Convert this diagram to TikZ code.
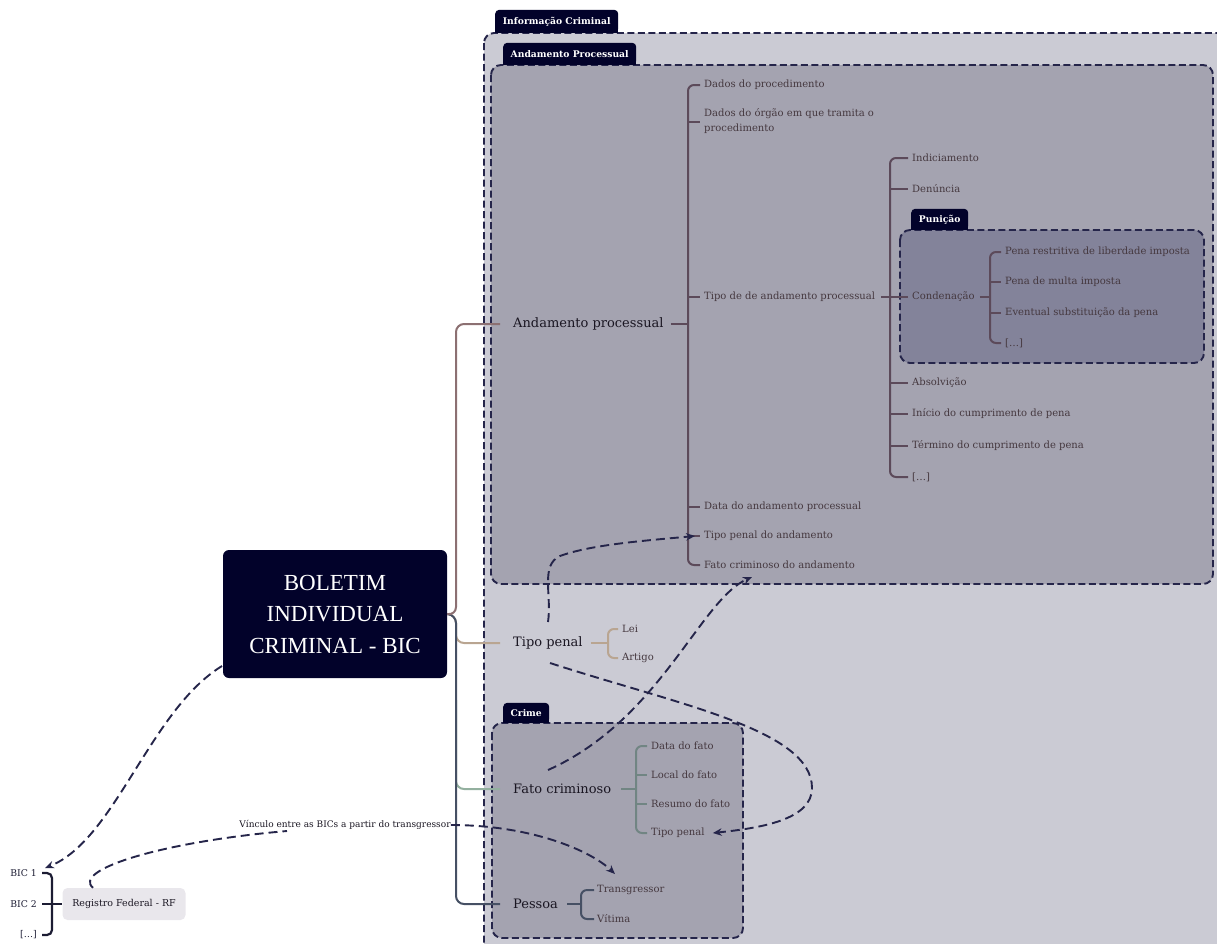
\documentclass[tikz,border=0pt]{standalone}
\usepackage{fontspec}
\setmainfont{DejaVu Serif}
\newfontfamily\titlefont{Liberation Serif}
\usetikzlibrary{arrows.meta}

\definecolor{navy}{HTML}{02022A}
\definecolor{dashc}{HTML}{25254A}
\definecolor{outerc}{HTML}{CBCBD4}
\definecolor{innerc}{HTML}{A4A3B0}
\definecolor{punc}{HTML}{83839A}
\definecolor{rfc}{HTML}{E9E7EC}
\definecolor{apbr}{HTML}{8C7072}
\definecolor{aplc}{HTML}{5C4A5A}
\definecolor{tplc}{HTML}{B9A591}
\definecolor{fcbr}{HTML}{93B09F}
\definecolor{fclc}{HTML}{718583}
\definecolor{pelc}{HTML}{465064}
\definecolor{maintext}{HTML}{1A1622}
\definecolor{itemtext}{HTML}{45383F}
\definecolor{bicc}{HTML}{1C1C33}

\tikzset{
  group/.style={draw=dashc, line width=1.9pt, dash pattern=on 7pt off 3.5pt, rounded corners=10pt},
  tab/.style={fill=navy, text=white, font=\bfseries\fontsize{9.2}{10}\selectfont,
    rounded corners=4pt, inner sep=0pt, anchor=south west},
  mainlbl/.style={anchor=west, inner sep=0pt, font=\fontsize{13}{15}\selectfont, text=maintext},
  item/.style={anchor=west, inner sep=0pt, font=\fontsize{10}{15}\selectfont, text=itemtext, align=left},
  trunk/.style={line width=2pt, rounded corners=8pt},
  brk/.style={line width=2pt, rounded corners=6pt},
  reldash/.style={draw=dashc, line width=1.9pt, dash pattern=on 9pt off 5pt},
  rel/.style={reldash, -{Stealth[length=9pt,width=7.5pt]}},
}

\begin{document}
\begin{tikzpicture}[x=1pt,y=-1pt]
\useasboundingbox (0,0) rectangle (1217,943);
\clip (0,0) rectangle (1217,943);

% ---------- group frames ----------
\draw[group, fill=outerc] (484,33) rectangle (1240,965);
\draw[group, fill=innerc] (491,65) rectangle (1213,584);
\draw[group, fill=punc] (900,230) rectangle (1204,363);
\draw[group, fill=innerc] (492,723) rectangle (743,938);

% ---------- group tabs ----------
\fill[navy] (495,33) rectangle ++(123,-10);
\node[tab, minimum width=123pt, minimum height=23pt] (tInfo) at (495,33) {Informação Criminal};
\fill[navy] (503,65) rectangle ++(133,-10);
\node[tab, minimum width=133pt, minimum height=22pt] (tAnd) at (503,65) {Andamento Processual};
\fill[navy] (911,230) rectangle ++(57,-10);
\node[tab, minimum width=57pt, minimum height=21pt] (tPun) at (911,230) {Punição};
\fill[navy] (503,723) rectangle ++(46,-10);
\node[tab, minimum width=46pt, minimum height=20pt] (tCri) at (503,723) {Crime};

% ---------- root ----------
\node[fill=navy, text=white, rounded corners=6pt, minimum width=224pt, minimum height=128pt,
  align=center, inner sep=0pt, font=\titlefont\fontsize{23}{31.5}\selectfont] (bic) at (335,614)
  {BOLETIM\\INDIVIDUAL\\CRIMINAL - BIC};

% ---------- main branches ----------
\node[mainlbl] (ap) at (513,324) {Andamento processual};
\node[mainlbl] (tp) at (513,643) {Tipo penal};
\node[mainlbl] (fc) at (513,789) {Fato criminoso};
\node[mainlbl] (pe) at (513,904) {Pessoa};

\draw[trunk, draw=tplc] (bic.east) -- (456,615) -- (456,643) -- ([xshift=-13pt]tp.west);
\draw[trunk, draw=fcbr] (456,700) -- (456,789) -- ([xshift=-13pt]fc.west);
\draw[trunk, draw=pelc] (bic.east) -- (456,615) -- (456,904) -- ([xshift=-13pt]pe.west);
\draw[trunk, draw=apbr] (bic.east) -- (456,615) -- (456,324) -- ([xshift=-13pt]ap.west);

% ---------- Andamento processual ----------
\node[item] (d1) at (704,85) {Dados do procedimento};
\node[item] (d2) at (704,121.5) {Dados do órgão em que tramita o\\procedimento};
\node[item] (d3) at (704,297) {Tipo de de andamento processual};
\node[item] (d4) at (704,507) {Data do andamento processual};
\node[item] (d5) at (704,536) {Tipo penal do andamento};
\node[item] (d6) at (704,565) {Fato criminoso do andamento};

\coordinate (apB) at (688,324);
\draw[brk, draw=aplc] ([xshift=7pt]ap.east) -- (apB);
\draw[brk, draw=aplc] ([xshift=-4pt]d1.west) -- (apB |- d1.west) -- (apB |- d6.west) -- ([xshift=-4pt]d6.west);
\foreach \n in {d2,d3,d4,d5}
  \draw[brk, draw=aplc] (apB |- \n.west) -- ([xshift=-4pt]\n.west);

% tipo de andamento
\node[item] (t1) at (912,158) {Indiciamento};
\node[item] (t2) at (912,189) {Denúncia};
\node[item] (t3) at (912,297) {Condenação};
\node[item] (t4) at (912,383) {Absolvição};
\node[item] (t5) at (912,414) {Início do cumprimento de pena};
\node[item] (t6) at (912,446) {Término do cumprimento de pena};
\node[item] (t7) at (912,477) {[…]};

\coordinate (tB) at (890,297);
\draw[brk, draw=aplc] ([xshift=6pt]d3.east) -- ([xshift=-4pt]t3.west);
\draw[brk, draw=aplc] ([xshift=-4pt]t1.west) -- (tB |- t1.west) -- (tB |- t7.west) -- ([xshift=-4pt]t7.west);
\foreach \n in {t2,t4,t5,t6}
  \draw[brk, draw=aplc] (tB |- \n.west) -- ([xshift=-4pt]\n.west);

% condenacao
\node[item] (p1) at (1005,252) {Pena restritiva de liberdade imposta};
\node[item] (p2) at (1005,282) {Pena de multa imposta};
\node[item] (p3) at (1005,313) {Eventual substituição da pena};
\node[item] (p4) at (1005,343) {[…]};

\coordinate (cB) at (990,297);
\draw[brk, draw=aplc] ([xshift=5pt]t3.east) -- (cB);
\draw[brk, draw=aplc] ([xshift=-4pt]p1.west) -- (cB |- p1.west) -- (cB |- p4.west) -- ([xshift=-4pt]p4.west);
\foreach \n in {p2,p3}
  \draw[brk, draw=aplc] (cB |- \n.west) -- ([xshift=-4pt]\n.west);

% ---------- Tipo penal ----------
\node[item] (lei) at (622,629) {Lei};
\node[item] (art) at (622,658) {Artigo};
\coordinate (tpB) at (608,643);
\draw[brk, draw=tplc] ([xshift=8pt]tp.east) -- (tpB);
\draw[brk, draw=tplc] ([xshift=-4pt]lei.west) -- (tpB |- lei.west) -- (tpB |- art.west) -- ([xshift=-4pt]art.west);

% ---------- Fato criminoso ----------
\node[item] (f1) at (651,746) {Data do fato};
\node[item] (f2) at (651,775) {Local do fato};
\node[item] (f3) at (651,804) {Resumo do fato};
\node[item] (f4) at (651,833) {Tipo penal};
\coordinate (fcB) at (636,789);
\draw[brk, draw=fclc] ([xshift=10pt]fc.east) -- (fcB);
\draw[brk, draw=fclc] ([xshift=-4pt]f1.west) -- (fcB |- f1.west) -- (fcB |- f4.west) -- ([xshift=-4pt]f4.west);
\foreach \n in {f2,f3}
  \draw[brk, draw=fclc] (fcB |- \n.west) -- ([xshift=-4pt]\n.west);

% ---------- Pessoa ----------
\node[item] (tr) at (597,890) {Transgressor};
\node[item] (vi) at (597,919) {Vítima};
\coordinate (peB) at (581,904);
\draw[brk, draw=pelc] ([xshift=9pt]pe.east) -- (peB);
\draw[brk, draw=pelc] ([xshift=-3pt]tr.west) -- (peB |- tr.west) -- (peB |- vi.west) -- ([xshift=-3pt]vi.west);

% ---------- BIC list and Registro Federal ----------
\node[anchor=east, inner sep=0pt, font=\fontsize{9.3}{11}\selectfont, text=bicc] (b1) at (37,873) {BIC 1};
\node[anchor=east, inner sep=0pt, font=\fontsize{9.3}{11}\selectfont, text=bicc] (b2) at (37,904) {BIC 2};
\node[anchor=east, inner sep=0pt, font=\fontsize{9.3}{11}\selectfont, text=bicc] (b3) at (37,935) {[…]};
\node[fill=rfc, rounded corners=5pt, minimum width=123pt, minimum height=32pt, inner sep=0pt,
  font=\fontsize{9.5}{11}\selectfont, text=maintext] (rf) at (124,904) {Registro Federal - RF};
\coordinate (bB) at (52,904);
\draw[line width=2.2pt, draw=bicc, rounded corners=5pt] ([xshift=5pt]b1.east) -- (bB |- b1.east) -- (bB |- b3.east) -- ([xshift=5pt]b3.east);
\draw[line width=2.2pt, draw=bicc] ([xshift=5pt]b2.east) -- (rf.west);

% ---------- relations ----------
\node[inner sep=0pt, font=\fontsize{9}{10}\selectfont, text=maintext] (lk) at (345,825)
  {Vínculo entre as BICs a partir do transgressor};
\coordinate (lkin) at (287,831);
\coordinate (trin) at (615,874);
\coordinate (bicout) at (222,666);
\coordinate (bicin) at (45,868);

\draw[rel] (bicout) .. controls (150,710) and (115,840) .. (bicin);
\draw[reldash] ([xshift=-31pt]rf.north) .. controls (72,870) and (160,842) .. (lkin);
\draw[rel] (lk.east) .. controls (530,825) and (590,850) .. (trin);

\coordinate (tpout) at (548,622);
\coordinate (tpout2) at (550,663);
\coordinate (fcout) at (548,770);
\draw[rel] (tpout) .. controls (552,595) and (540,565) .. (560,556)
  .. controls (590,545) and (640,541) .. ([xshift=-9pt]d5.west);
\draw[rel] (fcout) .. controls (660,720) and (700,600) .. (752,577);
\draw[rel] (tpout2) .. controls (680,705) and (812,730) .. (812,788)
  .. controls (812,820) and (760,828) .. ([xshift=8pt]f4.east);
\end{tikzpicture}
\end{document}
